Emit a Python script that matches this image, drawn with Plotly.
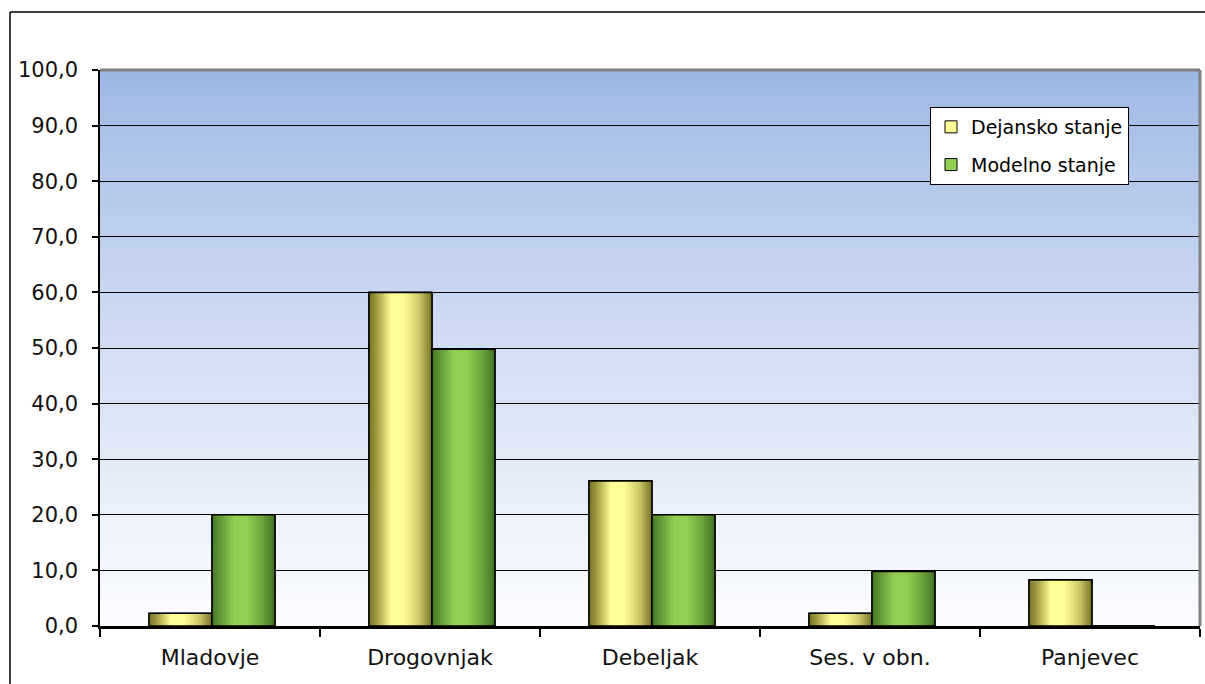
import zlib, struct, base64
import plotly.graph_objects as go

# ---------------- data ----------------
categories = ["Mladovje", "Drogovnjak", "Debeljak", "Ses. v obn.", "Panjevec"]
dejansko = [2.3, 60.0, 26.1, 2.3, 8.3]
modelno = [20.0, 49.8, 20.0, 9.8, 0.0]
series_names = ["Dejansko stanje", "Modelno stanje"]
y_ticks = [0, 10, 20, 30, 40, 50, 60, 70, 80, 90, 100]

# ---------------- style helpers ----------------
def lerp_profile(keys, t):
    for (t0, c0), (t1, c1) in zip(keys, keys[1:]):
        if t0 <= t <= t1:
            f = 0 if t1 == t0 else (t - t0) / (t1 - t0)
            return tuple(int(round(a + (b - a) * f)) for a, b in zip(c0, c1))
    return keys[-1][1]

yellow_keys = [(0.0, (118, 115, 38)), (0.12, (160, 155, 65)), (0.35, (255, 255, 150)),
               (0.55, (255, 255, 150)), (0.8, (205, 200, 105)), (1.0, (118, 112, 34))]
green_keys = [(0.0, (70, 118, 38)), (0.12, (95, 150, 55)), (0.35, (146, 208, 82)),
              (0.55, (146, 208, 82)), (0.8, (105, 165, 60)), (1.0, (66, 110, 32))]

def png_data_uri(rows, width=4):
    raw = b"".join(b"\x00" + bytes(c) * width for c in rows)
    def chunk(t, d):
        return struct.pack(">I", len(d)) + t + d + struct.pack(">I", zlib.crc32(t + d) & 0xffffffff)
    png = (b"\x89PNG\r\n\x1a\n"
           + chunk(b"IHDR", struct.pack(">IIBBBBB", width, len(rows), 8, 2, 0, 0, 0))
           + chunk(b"IDAT", zlib.compress(raw))
           + chunk(b"IEND", b""))
    return "data:image/png;base64," + base64.b64encode(png).decode()

top_c, bot_c = (156, 182, 228), (252, 253, 255)
bg_rows = []
H = 256
for i in range(H):
    f = (i / (H - 1)) ** 0.85
    bg_rows.append(tuple(int(round(a + (b - a) * f)) for a, b in zip(top_c, bot_c)))
bg_uri = png_data_uri(bg_rows)

BAR_W = 0.2864
offsets = [-0.2773, 0.009]
N = 24

fig = go.Figure()
for s, (vals, keys, off) in enumerate(zip([dejansko, modelno], [yellow_keys, green_keys], offsets)):
    mid = lerp_profile(keys, 0.45)
    fig.add_trace(go.Bar(
        x=categories, y=vals, name=series_names[s], width=BAR_W, offset=off,
        marker=dict(color="rgb(%d,%d,%d)" % mid, line=dict(color="black", width=1)),
        legendgroup=series_names[s], showlegend=True, hoverinfo="skip"))
    sw = BAR_W / N
    for i in range(N):
        c = lerp_profile(keys, (i + 0.5) / N)
        o = off + i * sw
        w = min(sw * 1.4, off + BAR_W - o)
        fig.add_trace(go.Bar(
            x=categories, y=vals, width=w, offset=o,
            marker=dict(color="rgb(%d,%d,%d)" % c, line=dict(width=0)),
            legendgroup=series_names[s], showlegend=False, hoverinfo="skip"))
    fig.add_trace(go.Bar(
        x=categories, y=vals, width=BAR_W, offset=off,
        marker=dict(color="rgba(0,0,0,0)", line=dict(color="black", width=1.6)),
        legendgroup=series_names[s], showlegend=False,
        hovertemplate="%{x}: %{y:.1f}<extra>" + series_names[s] + "</extra>"))

L, R, T, B = 100, 5, 70, 58
W, HH = 1205, 684
pw, ph = W - L - R, HH - T - B
FONT = "DejaVu Sans, Verdana, sans-serif"

px_x = lambda p: (p - L) / pw
px_y = lambda p: (HH - B - p) / ph

fig.update_layout(
    width=W, height=HH,
    margin=dict(l=L, r=R, t=T, b=B),
    barmode="overlay",
    separators=",.",
    paper_bgcolor="white",
    plot_bgcolor="rgba(0,0,0,0)",
    font=dict(family=FONT, size=21, color="#111111"),
    images=[dict(source=bg_uri, xref="paper", yref="paper", x=0, y=1, sizex=1, sizey=1,
                 sizing="stretch", layer="below", xanchor="left", yanchor="top")],
    xaxis=dict(type="category", range=[-0.5, 4.5], tickson="boundaries", ticks="outside",
               ticklen=8, tickcolor="black", tickwidth=1.5, showline=True, linecolor="black",
               linewidth=2.5, showgrid=False, tickfont=dict(size=22), ticklabelstandoff=10),
    yaxis=dict(range=[0, 100], tickvals=y_ticks, tickformat=".1f", ticks="outside",
               ticklen=6, tickcolor="black", tickwidth=1.5, showline=True, linecolor="black",
               linewidth=1.5, showgrid=True, gridcolor="black", gridwidth=1.2,
               zeroline=False, tickfont=dict(size=21), ticklabelstandoff=10),
    legend=dict(x=px_x(930), y=px_y(107), xanchor="left", yanchor="top",
                bgcolor="white", bordercolor="black", borderwidth=1,
                font=dict(size=19, color="black"), tracegroupgap=10,
                traceorder="grouped", itemwidth=30),
    shapes=[
        dict(type="line", xref="paper", yref="paper", x0=0, x1=1, y0=1, y1=1,
             line=dict(color="#808080", width=3), layer="above"),
        dict(type="line", xref="paper", yref="paper", x0=1, x1=1, y0=0, y1=1,
             line=dict(color="#808080", width=3), layer="above"),
        # outer chart border (top and left visible)
        dict(type="line", xref="paper", yref="paper", x0=px_x(10), x1=px_x(W + 10),
             y0=px_y(12), y1=px_y(12), line=dict(color="black", width=1.5), layer="above"),
        dict(type="line", xref="paper", yref="paper", x0=px_x(10), x1=px_x(10),
             y0=px_y(12), y1=px_y(HH + 10), line=dict(color="black", width=1.5), layer="above"),
    ],
)

fig.write_html("out.html", config={"displayModeBar": False},
               post_script="document.body.style.margin='0';document.body.style.overflow='hidden';")
